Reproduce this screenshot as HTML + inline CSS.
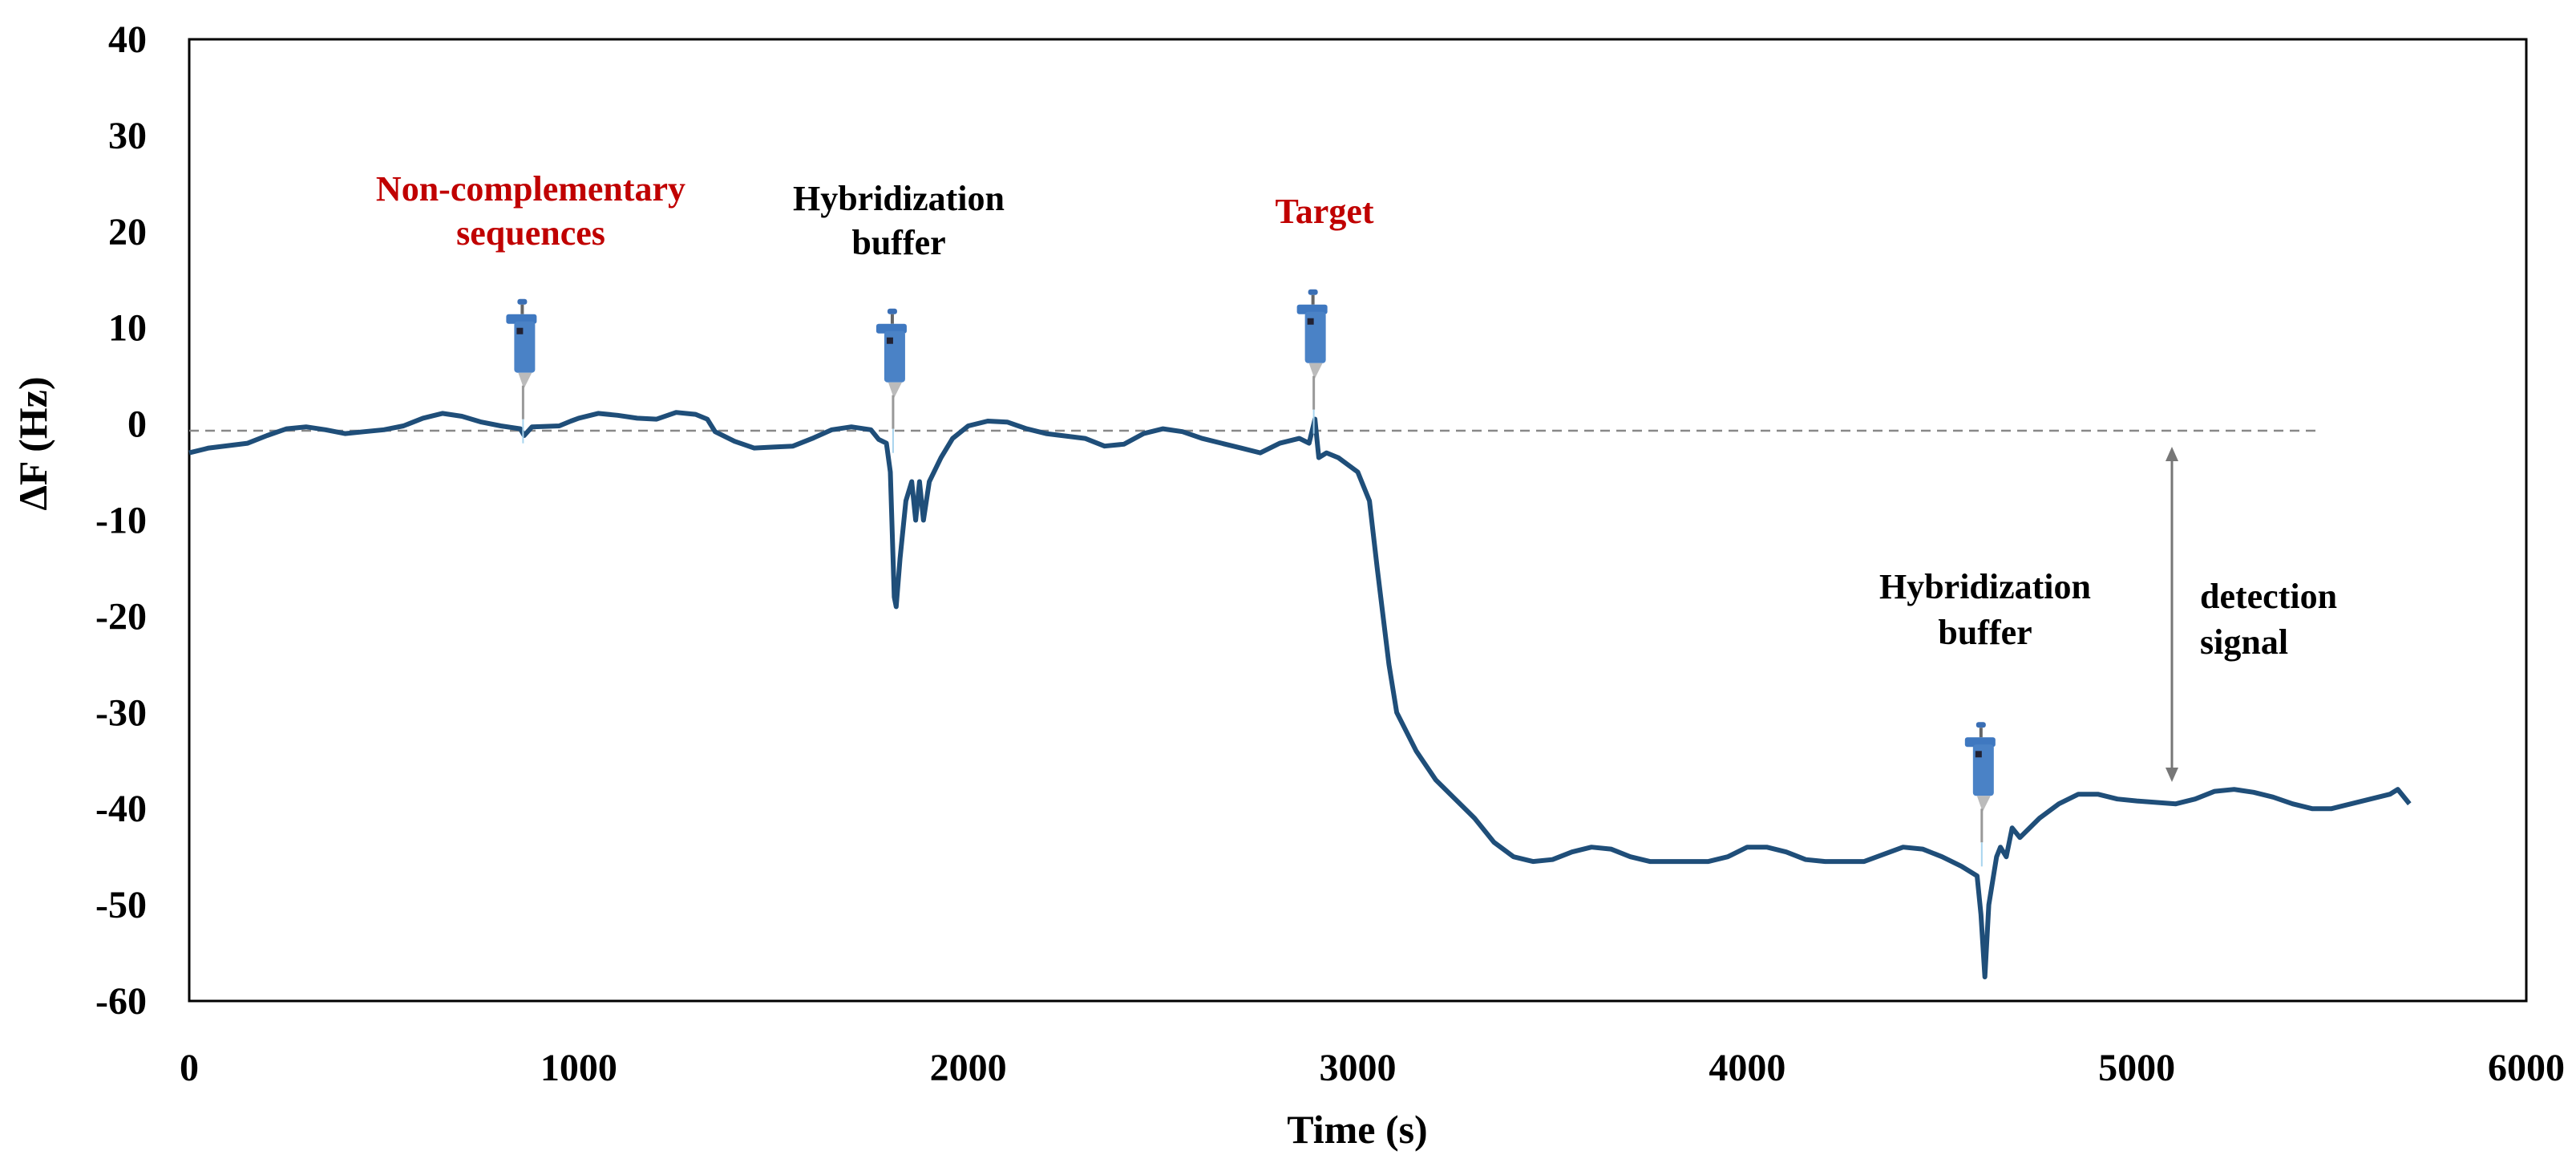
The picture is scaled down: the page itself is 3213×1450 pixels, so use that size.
<!DOCTYPE html>
<html><head><meta charset="utf-8"><style>
body{margin:0;background:#fff}
svg{display:block}
text{font-family:"Liberation Serif",serif;font-weight:bold}
</style></head><body>
<svg id="chart" width="3213" height="1450" viewBox="0 0 3213 1450" xmlns="http://www.w3.org/2000/svg">
<rect x="236" y="49" width="2915" height="1199" fill="none" stroke="#000" stroke-width="3"/>
<g id="yticks"></g><g id="xticks"></g>
<text x="58" y="553" font-size="50" text-anchor="middle" transform="rotate(-90 58 553)">ΔF (Hz)</text>
<text x="1693" y="1425" font-size="50" text-anchor="middle">Time (s)</text>
<line id="baseline" x1="236" x2="2890" stroke="#888" stroke-width="2.5" stroke-dasharray="12,8"/>
<path id="series" fill="none" stroke="#1f4e79" stroke-width="6" stroke-linejoin="round"/>
<g id="pipettes"></g>
<g font-size="44">
<text x="662" y="250" text-anchor="middle" fill="#c00000">Non-complementary</text>
<text x="662" y="305" text-anchor="middle" fill="#c00000">sequences</text>
<text x="1121" y="262" text-anchor="middle" fill="#000">Hybridization</text>
<text x="1121" y="317" text-anchor="middle" fill="#000">buffer</text>
<text x="1652" y="278" text-anchor="middle" fill="#c00000">Target</text>
<text x="2476" y="746" text-anchor="middle" fill="#000">Hybridization</text>
<text x="2476" y="803" text-anchor="middle" fill="#000">buffer</text>
<text x="2744" y="758" fill="#000">detection</text>
<text x="2744" y="815" fill="#000">signal</text>
</g>
<g>
<line x1="2709" y1="565" x2="2709" y2="967" stroke="#777" stroke-width="3"/>
<polygon points="2709,557 2701,575 2717,575" fill="#777"/>
<polygon points="2709,975 2701,957 2717,957" fill="#777"/>
</g>
</svg>
<script>
const times=[0,50,150,200,250,300,350,400,450,500,550,600,650,700,750,800,850,860,880,950,980,1000,1050,1100,1150,1200,1250,1300,1330,1350,1400,1450,1500,1550,1600,1650,1700,1750,1770,1790,1800,1810,1815,1825,1840,1855,1865,1875,1885,1900,1930,1960,2000,2050,2100,2150,2200,2300,2350,2400,2450,2500,2550,2600,2700,2750,2800,2850,2875,2890,2900,2920,2950,3000,3030,3050,3080,3100,3150,3200,3250,3300,3350,3400,3450,3500,3550,3600,3650,3700,3750,3800,3900,3950,4000,4050,4100,4150,4200,4300,4400,4450,4500,4550,4590,4600,4610,4620,4640,4650,4665,4680,4700,4750,4800,4850,4900,4950,5000,5100,5150,5200,5250,5300,5350,5400,5450,5500,5550,5600,5650,5670,5700];
const deltaF=[-3,-2.5,-2,-1.2,-0.5,-0.3,-0.6,-1,-0.8,-0.6,-0.2,0.6,1.1,0.8,0.2,-0.2,-0.5,-1.2,-0.3,-0.2,0.3,0.6,1.1,0.9,0.6,0.5,1.2,1.0,0.5,-0.8,-1.8,-2.5,-2.4,-2.3,-1.5,-0.6,-0.3,-0.6,-1.6,-2,-5,-18,-19,-14,-8,-6,-10,-6,-10,-6,-3.5,-1.5,-0.2,0.3,0.2,-0.5,-1,-1.5,-2.3,-2.1,-1.0,-0.5,-0.8,-1.5,-2.5,-3.0,-2,-1.5,-2,0.5,-3.5,-3,-3.5,-5,-8,-15,-25,-30,-34,-37,-39,-41,-43.5,-45,-45.5,-45.3,-44.5,-44,-44.2,-45,-45.5,-45.5,-45.5,-45,-44,-44,-44.5,-45.3,-45.5,-45.5,-44,-44.2,-45,-46,-47,-51,-57.5,-50,-45,-44,-45,-42,-43,-41,-39.5,-38.5,-38.5,-39,-39.2,-39.5,-39,-38.2,-38,-38.3,-38.8,-39.5,-40,-40,-39.5,-39,-38.5,-38,-39.5];
const yTicks=[40,30,20,10,0,-10,-20,-30,-40,-50,-60];
const xTicks=[0,1000,2000,3000,4000,5000,6000];
const baselineValue=-0.7;
const injectionTimes=[855,1805,2885,4600];
const injectionTops=[13,12,14,-31];

const NS="http://www.w3.org/2000/svg";
function xs(t){return 236+t*(2915/6000);}
function ys(v){return 49+(40-v)*(1199/100);}

const yg=document.getElementById('yticks');
yTicks.forEach(v=>{
  const t=document.createElementNS(NS,'text');
  t.setAttribute('x',183);t.setAttribute('y',ys(v)+16);
  t.setAttribute('text-anchor','end');t.setAttribute('font-size','48');
  t.textContent=v;
  
  
  yg.appendChild(t);
});
const xg=document.getElementById('xticks');
xTicks.forEach(v=>{
  const t=document.createElementNS(NS,'text');
  t.setAttribute('x',xs(v));t.setAttribute('y',1347);
  t.setAttribute('text-anchor','middle');t.setAttribute('font-size','48');
  t.textContent=v;
  
  
  xg.appendChild(t);
});
const bl=document.getElementById('baseline');
bl.setAttribute('y1',ys(baselineValue));bl.setAttribute('y2',ys(baselineValue));

let d='';
times.forEach((t,i)=>{d+=(i?'L':'M')+xs(t).toFixed(1)+' '+ys(deltaF[i]).toFixed(1);});
document.getElementById('series').setAttribute('d',d);

const pg=document.getElementById('pipettes');
injectionTimes.forEach((t,i)=>{
  const x=xs(t), y=ys(injectionTops[i]);
  const g=document.createElementNS(NS,'g');
  
  
  g.innerHTML=
   '<rect x="'+(x-6)+'" y="'+(y)+'" width="12" height="7" rx="3" fill="#3a6fb5"/>'+
   '<rect x="'+(x-2)+'" y="'+(y+7)+'" width="4" height="12" fill="#666"/>'+
   '<rect x="'+(x-20)+'" y="'+(y+19)+'" width="38" height="12" rx="3" fill="#3f78c0"/>'+
   '<rect x="'+(x-10)+'" y="'+(y+28)+'" width="26" height="64" rx="4" fill="#4a82c6"/>'+
   '<rect x="'+(x-7)+'" y="'+(y+36)+'" width="8" height="8" fill="#223"/>'+
   '<polygon points="'+(x-5)+','+(y+92)+' '+(x+12)+','+(y+92)+' '+(x+2)+','+(y+112)+'" fill="#bbb"/>'+
   '<line x1="'+(x+1)+'" y1="'+(y+108)+'" x2="'+(x+1)+'" y2="'+(y+150)+'" stroke="#999" stroke-width="3"/>'+
   '<line x1="'+(x+1)+'" y1="'+(y+150)+'" x2="'+(x+1)+'" y2="'+(y+180)+'" stroke="#a8d4ee" stroke-width="2"/>';
  pg.appendChild(g);
});
</script>
</body></html>
